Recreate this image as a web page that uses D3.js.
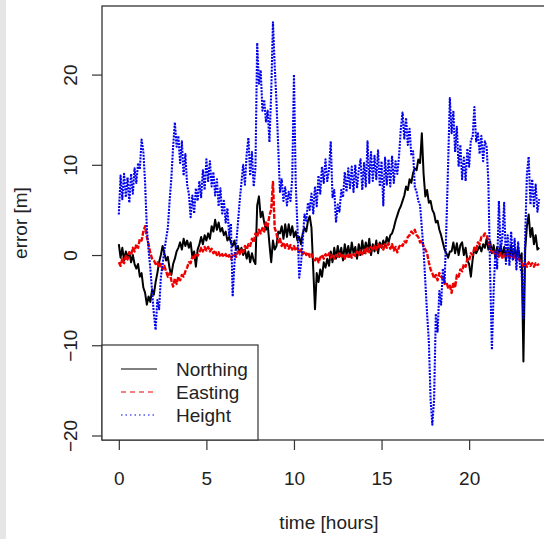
<!DOCTYPE html>
<html>
<head>
<meta charset="utf-8">
<script src="https://cdn.jsdelivr.net/npm/d3@7"></script>
<style>
    html, body { margin: 0; padding: 0; background: #fff; }
    svg { display: block; font-family: 'Liberation Sans', Arial, sans-serif; }
</style>
</head>
<body>
<div id="chart"></div>
<script>
var GnssError = GnssError || {};

// one sample every 0.1 h, 0 h .. 24 h (241 samples per series)
var sampleStart = 0;
var sampleStep = 0.1;

var northing = [
    1.2, -0.3, 0.8, -0.6, 0.4, -0.2, 0.3, -0.8, 0.0, -1.0,
    -1.5, -1.0, -2.4, -2.0, -3.6, -4.2, -5.5, -4.6, -5.2, -3.8,
    -4.4, -3.0, -2.0, -0.8, 0.0, 1.0, 0.2, -0.6, -0.2, -1.5,
    -2.2, -1.0, -0.4, 0.4, 0.8, 1.4, 0.6, 1.8, 1.0, 1.6,
    0.8, 1.4, -0.2, 0.4, -1.3, 0.6, 1.2, 2.0, 1.2, 2.2,
    1.6, 2.4, 1.8, 3.2, 2.6, 3.9, 2.8, 3.6, 2.6, 3.0,
    2.2, 2.6, 1.6, 2.0, 1.4, 1.0, 1.6, 0.6, 1.0, 0.2,
    0.8, 0.0, 0.6, -0.4, 0.4, -0.8, 0.2, -0.6, -1.0, 5.5,
    6.5, 4.2, 4.8, 3.6, 2.8, 3.4, 1.2, -0.8, 1.6, 0.6,
    1.0, 2.6, 2.4, 3.2, 1.8, 3.4, 2.0, 3.4, 2.2, 3.2,
    2.0, 2.6, 1.6, 2.0, 1.2, 2.4, 3.0, 2.6, 3.8, 4.3,
    3.0, -1.5, -6.0, -2.0, -3.0, -1.6, -2.4, -0.8, -1.4, -0.4,
    -1.2, 0.4, -0.8, 0.8, -0.4, 1.0, -0.2, 0.8, -0.6, 1.2,
    0.0, 1.0, -0.2, 1.4, 0.2, 0.9, -0.4, 1.2, 0.0, 1.6,
    0.2, 1.4, 0.4, 1.8, 0.0, 1.2, 0.4, 1.6, 0.2, 1.4,
    0.8, 1.6, 1.0, 2.0, 1.4, 2.2, 2.4, 3.0, 3.8, 4.4,
    5.0, 5.4, 6.0, 6.6, 7.6, 7.2, 8.4, 8.0, 9.1, 9.6,
    9.4, 10.6, 10.2, 13.5, 9.0, 6.5, 7.2, 5.8, 6.0, 5.0,
    4.6, 3.6, 3.8, 2.8, 2.2, 1.4, 0.6, 0.2, -0.3, 0.4,
    0.4, 1.4, 0.2, 1.3, 0.0, 1.1, 1.4, 0.0, 0.8, -0.6,
    -1.0, -2.4, -0.5, 0.8, 0.2, 0.6, 1.0, 0.4, 1.2, 0.8,
    1.8, 0.6, 1.5, 0.2, 1.1, -0.3, 0.9, 0.0, 1.1, -0.2,
    0.9, -0.5, 0.7, -0.3, 1.1, -0.5, 0.7, -0.3, 0.9, -0.6,
    0.2, -11.8, 0.6, 3.2, 4.5, 2.0, 3.0, 1.2, 2.2, 0.6,
    0.8
];

var easting = [
    -0.8, -1.2, -0.4, -0.9, -0.1, -0.5, 0.3, 0.0, 0.8, 0.4,
    1.2, 0.8, 1.8, 1.6, 2.6, 3.2, 2.0, 1.2, 0.2, -0.4,
    -0.6, -1.0, -0.8, -1.4, -1.0, -1.6, -1.2, -1.8, -2.4, -2.0,
    -2.8, -3.5, -2.6, -3.2, -2.4, -2.8, -2.2, -2.4, -1.8, -1.4,
    -0.8, -0.9, -0.2, -0.5, 0.2, -0.1, 0.3, 0.8, 0.4, 0.9,
    0.5, 0.9, 0.4, 0.7, 0.2, 0.5, 0.0, 0.3, -0.2, 0.1,
    -0.2, 0.1, -0.3, 0.0, -0.4, -0.1, 0.2, -0.2, 0.4, 0.1,
    0.6, 0.3, 1.0, 0.6, 1.2, 1.0, 1.8, 1.4, 2.4, 2.0,
    2.8, 2.4, 3.0, 2.6, 3.6, 3.2, 4.4, 5.0, 8.1, 3.0,
    2.4, 1.4, 1.8, 1.0, 1.4, 0.8, 1.2, 0.7, 1.1, 0.6,
    1.0, 0.5, 0.8, 0.3, 0.6, 0.1, 0.4, 0.0, 0.3, -0.2,
    0.1, -0.4, -0.6, -0.2, -0.8, -0.3, 0.0, -0.4, 0.1, -0.2,
    0.2, -0.3, 0.1, -0.4, 0.0, -0.2, 0.2, -0.3, 0.0, -0.4,
    0.1, -0.2, 0.2, -0.3, 0.1, -0.1, 0.4, 0.0, 0.5, 0.1,
    0.6, 0.2, 0.8, 0.3, 0.9, 0.5, 1.0, 0.6, 1.2, 0.7,
    1.1, 0.6, 1.2, 0.8, 1.3, 0.7, 1.2, 0.5, 0.9, 0.3,
    0.9, 1.2, 1.0, 1.5, 1.4, 2.0, 2.2, 2.6, 2.4, 2.8,
    2.2, 2.0, 1.4, 1.6, 1.0, 0.6, 0.2, -0.8, -1.6, -2.0,
    -2.6, -2.2, -2.8, -2.0, -2.4, -2.6, -3.2, -3.0, -3.6, -3.4,
    -4.2, -3.0, -3.6, -2.2, -2.4, -1.6, -1.8, -1.0, -1.3, -0.4,
    -0.6, 0.2, 0.0, 0.8, 0.6, 1.4, 1.2, 2.0, 2.0, 2.4,
    2.2, 1.5, 0.8, 0.2, 0.4, 0.0, 0.3, -0.2, 0.2, -0.3,
    0.1, -0.2, 0.2, -0.3, 0.0, -0.4, 0.0, -0.5, -0.2, -0.6,
    -0.8, -1.2, -0.9, -1.3, -0.8, -1.2, -0.9, -1.3, -0.9, -1.1,
    -1.0
];

var height = [
    4.5, 8.8, 6.2, 9.0, 6.4, 8.6, 5.8, 9.0, 6.8, 9.6,
    8.0, 10.2, 9.5, 12.8, 11.5, 8.0, 3.0, 0.5, -1.5, -4.0,
    -6.5, -8.3, -5.0, -6.0, -2.5, -1.0, 0.5, 1.8, 3.0, 6.0,
    8.5, 12.0, 14.7, 12.0, 13.2, 10.2, 12.6, 8.8, 11.2, 7.8,
    6.8, 4.2, 6.6, 4.6, 7.4, 6.0, 8.2, 6.4, 9.4, 7.2,
    10.6, 8.2, 10.4, 7.6, 9.2, 6.6, 8.4, 5.4, 7.4, 4.6,
    6.0, 3.6, 5.2, 2.2, 3.5, -4.6, -1.0, 1.2, 3.5, 6.0,
    8.0, 10.0, 7.8, 11.2, 13.0, 8.8, 11.4, 7.6, 9.6, 23.5,
    19.0, 20.5, 16.0, 17.2, 14.8, 16.0, 12.5, 18.0, 25.8, 21.0,
    17.0, 12.0, 7.0, 8.4, 6.0, 7.5, 5.5, 7.0, 6.0, 8.5,
    20.0, 8.0, 3.0, -2.5, -1.0, 1.5, 4.5, 3.8, 5.8, 5.0,
    6.8, 4.6, 7.6, 5.4, 8.8, 6.8, 9.8, 8.0, 10.6, 8.2,
    9.4, 12.6, 6.4, 7.2, 3.6, 5.6, 4.8, 7.2, 6.4, 9.2,
    7.0, 9.6, 7.4, 9.8, 7.0, 10.0, 7.4, 9.4, 10.6, 7.2,
    10.2, 7.6, 12.6, 8.0, 11.4, 8.2, 11.0, 8.4, 11.6, 7.6,
    10.4, 5.5, 10.8, 7.8, 10.6, 7.6, 11.0, 8.0, 10.4, 9.0,
    11.0, 14.0, 15.8, 12.8, 15.2, 12.2, 14.0, 11.0, 11.5, 7.5,
    7.0, 6.0, 5.5, 3.0, 0.5, -3.0, -6.5, -9.5, -16.0, -18.8,
    -16.0, -6.5, -8.5, -4.0, -5.5, -1.5, -3.0, 3.0, 10.0, 17.4,
    13.5, 16.0, 11.4, 14.2, 9.8, 12.2, 8.4, 10.8, 8.2, 11.8,
    9.8, 12.8, 13.0, 16.4, 12.6, 13.6, 11.2, 13.2, 10.4, 12.6,
    12.0, 8.0, -2.0, -10.5, -4.0, 0.5, -1.5, 6.0, 0.5, 2.0,
    5.8, -1.0, 2.2, -1.2, 2.6, -0.6, 1.8, -1.6, 1.4, -1.2,
    -2.0, -7.0, 2.0, 9.0, 10.9, 5.6, 8.4, 5.4, 7.8, 4.8,
    6.2
];

var seriesNames = [ 'Northing', 'Easting', 'Height' ];
var seriesColors = [ '#000000', '#ee0000', '#0000ee' ];
var legendDashes = [ null, '5,4', '1.5,3' ];
// the recorded data is so dense that the patterns almost close up
var lineDashes = [ null, '5,1.5', '2,1.2' ];
var lineWidths = [ 2.0, 2.4, 2.1 ];
var xTicks = [ 0, 5, 10, 15, 20 ];
var yTicks = [ -20, -10, 0, 10, 20 ];
var xDomain = [ -0.96, 24.96 ];
var yDomain = [ -20.5, 27.6 ];

GnssError.plotter = function ( svg ) {
    var self = this,
        _svg = svg,
        _box = {
            left: 102,
            right: 556,
            top: 6,
            bottom: 440
        },
        _fontSize = 19,
        _textColor = '#222',
        _x = d3.scaleLinear().domain( xDomain ).range( [ _box.left, _box.right ] ),
        _y = d3.scaleLinear().domain( yDomain ).range( [ _box.bottom, _box.top ] ),
        _toPoints = function ( values ) {
            return values.map( function ( v, i ) {
                return { t: sampleStart + i * sampleStep, v: v };
            } );
        },
        _drawAxes = function () {
            var xAxis = d3.axisBottom( _x )
                .tickValues( xTicks )
                .tickSize( 10 )
                .tickPadding( 22 )
                .tickFormat( d3.format( 'd' ) );
            var yAxis = d3.axisLeft( _y )
                .tickValues( yTicks )
                .tickSize( 10 )
                .tickFormat( d3.format( 'd' ) );

            var gx = _svg.append( 'g' )
                .attr( 'transform', 'translate(0,' + _box.bottom + ')' )
                .call( xAxis );
            var gy = _svg.append( 'g' )
                .attr( 'transform', 'translate(' + _box.left + ',0)' )
                .call( yAxis );

            [ gx, gy ].forEach( function ( g ) {
                g.select( '.domain' ).remove();
                g.selectAll( '.tick line' ).attr( 'stroke', '#333' ).attr( 'stroke-width', 1.2 );
                g.selectAll( 'text' )
                    .attr( 'fill', _textColor )
                    .style( 'font-size', _fontSize + 'px' )
                    .style( 'font-family', "'Liberation Sans', Arial, sans-serif" );
            } );

            // R style: y tick labels turned parallel to the axis
            gy.selectAll( 'text' )
                .attr( 'x', null )
                .attr( 'dy', '0.36em' )
                .attr( 'text-anchor', 'middle' )
                .attr( 'transform', 'translate(' + ( 70 - _box.left ) + ',0) rotate(-90)' );

            _svg.append( 'text' )
                .attr( 'x', ( _box.left + _box.right ) / 2 )
                .attr( 'y', 529 )
                .attr( 'text-anchor', 'middle' )
                .attr( 'fill', _textColor )
                .style( 'font-size', _fontSize + 'px' )
                .text( 'time [hours]' );

            _svg.append( 'text' )
                .attr( 'transform', 'translate(27,' + ( ( _box.top + _box.bottom ) / 2 ) + ') rotate(-90)' )
                .attr( 'text-anchor', 'middle' )
                .attr( 'fill', _textColor )
                .style( 'font-size', _fontSize + 'px' )
                .text( 'error [m]' );
        },
        _drawSeries = function () {
            var line = d3.line()
                .x( function ( d ) { return _x( d.t ); } )
                .y( function ( d ) { return _y( d.v ); } );

            _svg.append( 'clipPath' )
                .attr( 'id', 'plotClip' )
                .append( 'rect' )
                .attr( 'x', _box.left )
                .attr( 'y', _box.top )
                .attr( 'width', _box.right - _box.left )
                .attr( 'height', _box.bottom - _box.top );

            var grp = _svg.append( 'g' ).attr( 'clip-path', 'url(#plotClip)' );

            [ northing, easting, height ].forEach( function ( values, i ) {
                grp.append( 'path' )
                    .datum( _toPoints( values ) )
                    .attr( 'd', line )
                    .attr( 'fill', 'none' )
                    .attr( 'stroke', seriesColors[ i ] )
                    .attr( 'stroke-width', lineWidths[ i ] )
                    .attr( 'stroke-linejoin', 'round' )
                    .attr( 'stroke-dasharray', lineDashes[ i ] );
            } );
        },
        _drawLegend = function () {
            var lg = _svg.append( 'g' );
            lg.append( 'rect' )
                .attr( 'x', _box.left )
                .attr( 'y', 345 )
                .attr( 'width', 156 )
                .attr( 'height', _box.bottom - 345 )
                .attr( 'fill', '#fff' )
                .attr( 'stroke', '#333' )
                .attr( 'stroke-width', 1.2 );

            seriesNames.forEach( function ( name, i ) {
                var rowY = 369 + i * 23;
                lg.append( 'line' )
                    .attr( 'x1', 121 )
                    .attr( 'x2', 157 )
                    .attr( 'y1', rowY )
                    .attr( 'y2', rowY )
                    .attr( 'stroke', seriesColors[ i ] )
                    .attr( 'stroke-width', 1.2 )
                    .attr( 'stroke-dasharray', legendDashes[ i ] );
                lg.append( 'text' )
                    .attr( 'x', 176 )
                    .attr( 'y', rowY )
                    .attr( 'dy', '0.35em' )
                    .attr( 'fill', _textColor )
                    .style( 'font-size', _fontSize + 'px' )
                    .text( name );
            } );
        };

    this.draw = function () {
        // thin grey strip on the left edge of the scan
        _svg.append( 'rect' )
            .attr( 'x', 0 )
            .attr( 'y', 0 )
            .attr( 'width', 6 )
            .attr( 'height', 539 )
            .attr( 'fill', '#e6e6e6' );

        _drawSeries();

        _svg.append( 'rect' )
            .attr( 'x', _box.left )
            .attr( 'y', _box.top )
            .attr( 'width', _box.right - _box.left )
            .attr( 'height', _box.bottom - _box.top )
            .attr( 'fill', 'none' )
            .attr( 'stroke', '#222' )
            .attr( 'stroke-width', 1.2 );

        _drawAxes();
        _drawLegend();
    };
};

var svg = d3.select( '#chart' )
    .append( 'svg' )
    .attr( 'width', 544 )
    .attr( 'height', 539 );

new GnssError.plotter( svg ).draw();
</script>
</body>
</html>
